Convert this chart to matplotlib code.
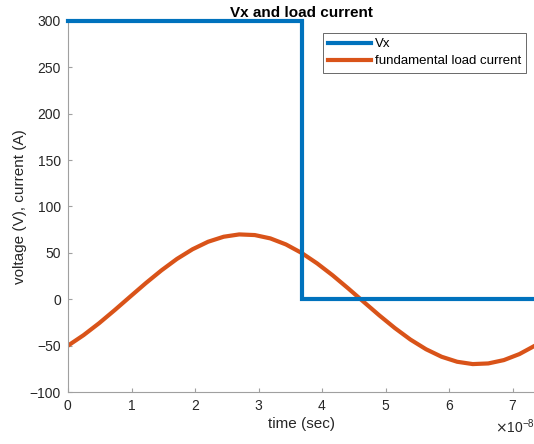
import numpy as np
import matplotlib
matplotlib.use("Agg")
import matplotlib.pyplot as plt
from matplotlib.ticker import ScalarFormatter

plt.rcParams['font.family'] = ['Liberation Sans', 'DejaVu Sans']

# ── data ────────────────────────────────────────────────
# square-wave output voltage: 300 V for the first half period, then 0 V
vx_time = [0.0, 3.675e-8, 3.675e-8, 7.35e-8]
vx_volts = [300, 300, 0, 0]

# fundamental load current, sampled every 0.245e-8 s over one period
i_time = [k * 0.245e-8 for k in range(31)]
i_amps = [-50.0, -38.7, -25.8, -11.7, 2.9, 17.4, 31.1, 43.5, 53.9, 62.0,
          67.4, 69.9, 69.2, 65.6, 59.1, 50.0, 38.7, 25.8, 11.7, -2.9,
          -17.4, -31.1, -43.5, -53.9, -62.0, -67.4, -69.9, -69.2, -65.6,
          -59.1, -50.0]

x_ticks = [k * 1e-8 for k in range(8)]
y_ticks = [-100, -50, 0, 50, 100, 150, 200, 250, 300]

# ── figure ──────────────────────────────────────────────
fig = plt.figure(figsize=(5.34, 4.44), dpi=100)
ax = fig.add_axes([68 / 534, 52 / 444, 467 / 534, 371 / 444])

ax.plot(vx_time, vx_volts, color='#0072BD', lw=3, label='Vx',
        solid_joinstyle='miter', clip_on=False, zorder=3)
ax.plot(i_time, i_amps, color='#D95319', lw=3, solid_joinstyle='round',
        label='fundamental load current', zorder=2)

ax.set_xlim(0, 7.35e-8)
ax.set_ylim(-100, 300)
ax.set_xticks(x_ticks)
ax.set_yticks(y_ticks)

fmt = ScalarFormatter(useMathText=True)
fmt.set_powerlimits((-3, 3))
ax.xaxis.set_major_formatter(fmt)
ax.xaxis.get_offset_text().set_fontsize(10)
ax.xaxis.get_offset_text().set_color('#262626')

for side in ('top', 'right'):
    ax.spines[side].set_visible(False)
for side in ('left', 'bottom'):
    ax.spines[side].set_color('#a0a0a0')
    ax.spines[side].set_linewidth(0.8)
ax.tick_params(direction='in', length=3, color='#a0a0a0',
               labelsize=10, labelcolor='#262626', pad=5)

ax.set_title('Vx and load current', fontsize=11, fontweight='bold', pad=3)
ax.set_xlabel('time (sec)', fontsize=11, color='#262626', labelpad=3)
ax.set_ylabel('voltage (V), current (A)', fontsize=11, color='#262626',
              labelpad=2)

leg = ax.legend(loc='upper right', bbox_to_anchor=(0.981, 0.968),
                fontsize=9.5, frameon=True, fancybox=False,
                handlelength=3.2, handletextpad=0.3, borderpad=0.4,
                labelspacing=0.35, borderaxespad=0)
leg.get_frame().set_edgecolor('#262626')
leg.get_frame().set_linewidth(0.6)

plt.savefig("out.png", dpi=100)
